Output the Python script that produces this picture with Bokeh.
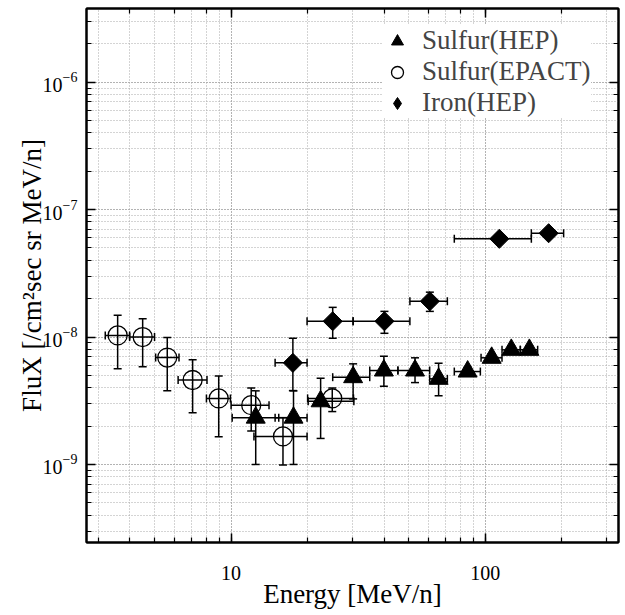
import numpy as np
from bokeh.plotting import figure
from bokeh.models import (ColumnDataSource, Whisker, TeeHead, LogAxis, Legend, LegendItem,
                          PrintfTickFormatter)
from bokeh.embed import file_html
from bokeh.resources import INLINE

# ---- data: Sulfur (EPACT) ----
epact_e = [3.58, 4.49, 5.61, 7.06, 8.94, 12.0, 16.0, 25.0]
epact_elo = [3.20, 3.99, 5.05, 6.19, 8.0, 10.0, 12.3, 20.0]
epact_ehi = [3.99, 5.0, 6.24, 8.04, 9.94, 14.1, 19.9, 30.3]
epact_f = [1.03e-8, 1.0e-8, 6.9e-9, 4.6e-9, 3.3e-9, 2.92e-9, 1.66e-9, 3.3e-9]
epact_flo = [5.65e-9, 5.85e-9, 3.78e-9, 2.55e-9, 1.65e-9, 1.83e-9, 9.9e-10, 2.6e-9]
epact_fhi = [1.48e-8, 1.39e-8, 9.9e-9, 6.64e-9, 4.95e-9, 3.98e-9, 2.33e-9, 3.98e-9]

# ---- data: Sulfur (HEP) ----
shep_e = [12.5, 17.6, 22.5, 30.2, 39.9, 52.9, 65.5, 85.2, 105.9, 126.5, 149.0]
shep_elo = [10.1, 14.9, 20.1, 25.1, 35.1, 45.3, 60.4, 75.5, 96.2, 116.3, 137.3]
shep_ehi = [15.4, 19.9, 30.4, 35.1, 45.3, 60.4, 70.9, 95.6, 116.3, 137.3, 160.6]
shep_f = [2.33e-9, 2.33e-9, 3.13e-9, 4.84e-9, 5.46e-9, 5.46e-9, 4.7e-9, 5.36e-9, 6.87e-9, 7.93e-9, 7.93e-9]
shep_flo = [1.0e-9, 1.0e-9, 1.6e-9, 3.27e-9, 4.11e-9, 4.39e-9, 3.46e-9, 5.0e-9, 6.4e-9, 7.4e-9, 7.4e-9]
shep_fhi = [3.78e-9, 3.78e-9, 4.75e-9, 6.16e-9, 7.07e-9, 6.87e-9, 6.23e-9, 5.8e-9, 7.4e-9, 8.5e-9, 8.5e-9]

# ---- data: Iron (HEP) ----
fe_e = [17.5, 25.1, 40.1, 60.5, 113.5, 177.4]
fe_elo = [14.9, 19.9, 30.2, 50.5, 75.5, 151.7]
fe_ehi = [19.9, 30.2, 50.5, 70.9, 151.7, 203.2]
fe_f = [6.27e-9, 1.33e-8, 1.33e-8, 1.91e-8, 5.9e-8, 6.53e-8]
fe_flo = [3.8e-9, 9.78e-9, 1.07e-8, 1.59e-8, 5.5e-8, 6.1e-8]
fe_fhi = [9.78e-9, 1.71e-8, 1.59e-8, 2.25e-8, 6.3e-8, 7.0e-8]

X_RANGE = (2.7, 334)
Y_RANGE = (2.44e-10, 3.79e-6)

FONT = "Liberation Serif"
FW, FH = 532, 534

p = figure(x_axis_type="log", y_axis_type="log", x_range=X_RANGE, y_range=Y_RANGE,
           frame_width=FW, frame_height=FH, output_backend="svg", toolbar_location=None,
           min_border_left=86, min_border_right=5, min_border_top=8, min_border_bottom=70,
           background_fill_color="white", border_fill_color="white")

p.outline_line_color = "black"
p.outline_line_width = 2

for g in (p.xgrid, p.ygrid):
    g.grid_line_color = "#a8a8a8"
    g.grid_line_dash = "1 2"
    g.grid_line_width = 1
    g.minor_grid_line_color = "#a8a8a8"
    g.minor_grid_line_dash = "1 2"
    g.minor_grid_line_width = 1


def style_axis(ax, labels=True):
    ax.axis_line_width = 2
    ax.major_tick_in = 9
    ax.major_tick_out = 0
    ax.minor_tick_in = 5
    ax.minor_tick_out = 0
    ax.major_tick_line_width = 1.5
    ax.minor_tick_line_width = 1.2
    ax.major_label_text_font = FONT
    ax.major_label_text_color = "black"
    ax.axis_label_text_font = FONT
    ax.axis_label_text_font_style = "normal"
    ax.axis_label_text_color = "black"
    if not labels:
        ax.major_label_text_font_size = "1px"
        ax.major_label_text_color = None
        ax.major_label_standoff = 0


xa = p.xaxis[0]
ya = p.yaxis[0]
style_axis(xa)
style_axis(ya)
xa.formatter = PrintfTickFormatter(format="%d")
xa.major_label_text_font_size = "20px"
xa.major_label_standoff = 23
xa.axis_label = "Energy [MeV/n]"
xa.axis_label_text_font_size = "27px"
xa.axis_label_standoff = -4
ya.major_label_text_font_size = "20px"
ya.major_label_standoff = 9
ya.axis_label = "FluX [/cm\u00b2sec sr MeV/n]"
ya.axis_label_text_font_size = "27px"
ya.axis_label_standoff = -7

top = LogAxis()
right = LogAxis()
style_axis(top, labels=False)
style_axis(right, labels=False)
p.add_layout(top, "above")
p.add_layout(right, "right")

# sources
src_ep = ColumnDataSource(dict(x=epact_e, xlo=epact_elo, xhi=epact_ehi, y=epact_f, ylo=epact_flo, yhi=epact_fhi))
src_sh = ColumnDataSource(dict(x=shep_e, xlo=shep_elo, xhi=shep_ehi, y=shep_f, ylo=shep_flo, yhi=shep_fhi))
src_fe = ColumnDataSource(dict(x=fe_e, xlo=fe_elo, xhi=fe_ehi, y=fe_f, ylo=fe_flo, yhi=fe_fhi))

for src in (src_ep, src_sh, src_fe):
    wy = Whisker(source=src, base="x", lower="ylo", upper="yhi", dimension="height",
                 line_color="black", line_width=1.5,
                 lower_head=TeeHead(size=8, line_width=1.5, line_color="black"),
                 upper_head=TeeHead(size=8, line_width=1.5, line_color="black"))
    wx = Whisker(source=src, base="y", lower="xlo", upper="xhi", dimension="width",
                 line_color="black", line_width=1.5,
                 lower_head=TeeHead(size=8, line_width=1.5, line_color="black"),
                 upper_head=TeeHead(size=8, line_width=1.5, line_color="black"))
    p.add_layout(wy)
    p.add_layout(wx)

r_sh = p.scatter("x", "y", source=src_sh, marker="triangle", size=19,
                 fill_color="black", line_color="black")
r_ep = p.scatter("x", "y", source=src_ep, marker="circle", size=19,
                 fill_color=None, line_color="black", line_width=1.3)
r_fe = p.scatter("x", "y", source=src_fe, marker="square", angle=np.pi / 4, size=13.5,
                 fill_color="black", line_color="black")
# legend-only glyph (legend markers are drawn unrotated, so use a diamond)
r_fe_leg = p.scatter(x=[float("nan")], y=[float("nan")], marker="diamond",
                     fill_color="black", line_color="black")

GH = 30
PAD = 3
legend = Legend(items=[LegendItem(label="Sulfur(HEP)", renderers=[r_sh]),
                       LegendItem(label="Sulfur(EPACT)", renderers=[r_ep]),
                       LegendItem(label="Iron(HEP)", renderers=[r_fe_leg])],
                location=(296, FH - 14 - (3 * GH + 2 * PAD)), padding=PAD, spacing=0,
                label_text_font=FONT, label_text_font_size="27px",
                label_height=GH, glyph_height=GH, glyph_width=GH,
                label_standoff=10, border_line_color=None,
                background_fill_color="white", background_fill_alpha=1.0)
p.add_layout(legend, "center")

open("out.html", "w").write(file_html(p, INLINE))
